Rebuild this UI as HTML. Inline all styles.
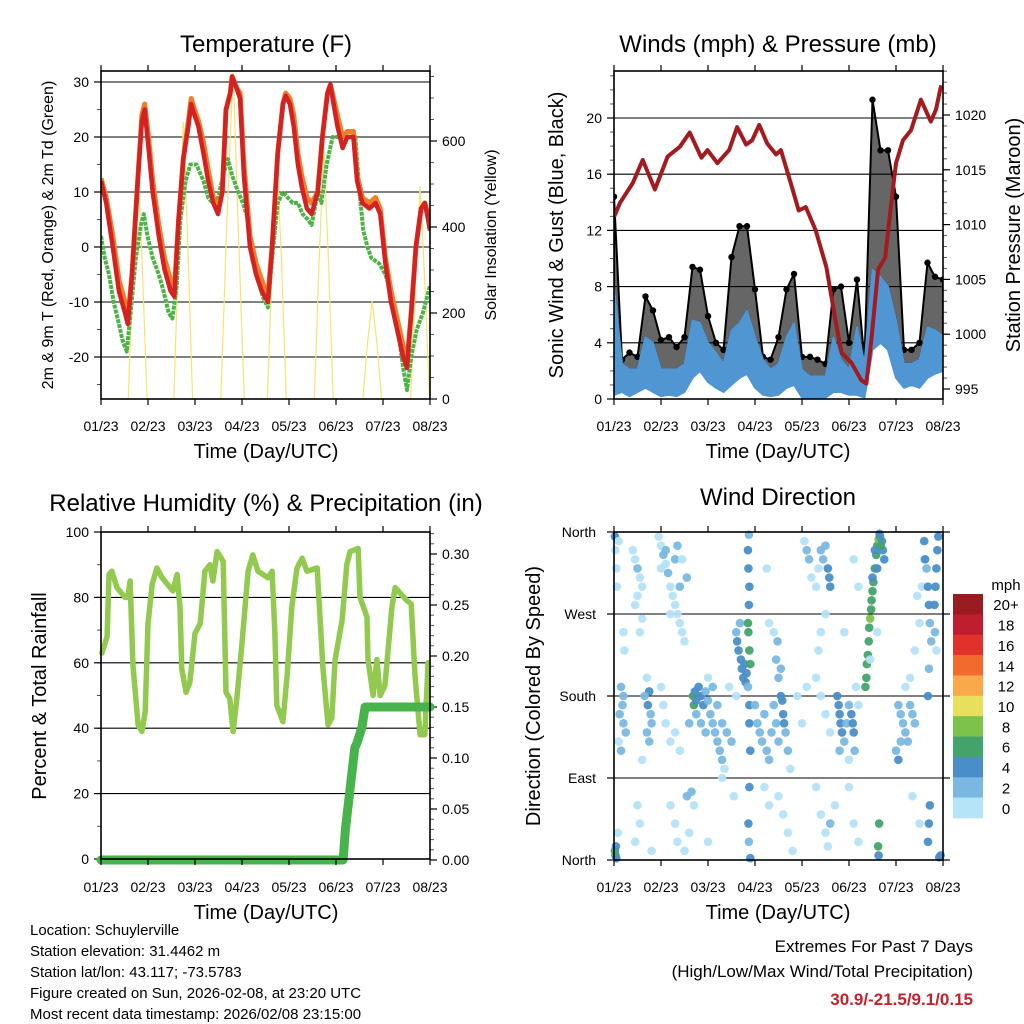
<!DOCTYPE html>
<html><head><meta charset="utf-8"><style>
html,body{margin:0;padding:0;background:#fff;}
svg{display:block;font-family:"Liberation Sans",Arial,sans-serif;}
</style></head><body>
<svg id="fig" xmlns="http://www.w3.org/2000/svg" width="1024" height="1024" viewBox="0 0 1024 1024">
<rect width="1024" height="1024" fill="#fff"/>
<g id="layer"></g>
<text x="266" y="52" font-size="24" text-anchor="middle">Temperature (F)</text>
<text x="778" y="52" font-size="24" text-anchor="middle">Winds (mph) &amp; Pressure (mb)</text>
<text x="266" y="511" font-size="24" text-anchor="middle">Relative Humidity (%) &amp; Precipitation (in)</text>
<text x="778" y="505" font-size="24" text-anchor="middle">Wind Direction</text>
<text x="266" y="458" font-size="20" text-anchor="middle">Time (Day/UTC)</text>
<text x="778" y="458" font-size="20" text-anchor="middle">Time (Day/UTC)</text>
<text x="266" y="919" font-size="20" text-anchor="middle">Time (Day/UTC)</text>
<text x="778" y="919" font-size="20" text-anchor="middle">Time (Day/UTC)</text>
<text transform="translate(53,235) rotate(-90)" font-size="16" text-anchor="middle">2m &amp; 9m T (Red, Orange) &amp; 2m Td (Green)</text>
<text transform="translate(496,235) rotate(-90)" font-size="16" text-anchor="middle">Solar Insolation (Yellow)</text>
<text transform="translate(563,235) rotate(-90)" font-size="20" text-anchor="middle">Sonic Wind &amp; Gust (Blue, Black)</text>
<text transform="translate(1020,235) rotate(-90)" font-size="20" text-anchor="middle">Station Pressure (Maroon)</text>
<text transform="translate(46,696) rotate(-90)" font-size="20" text-anchor="middle">Percent &amp; Total Rainfall</text>
<text transform="translate(540,696) rotate(-90)" font-size="20" text-anchor="middle">Direction (Colored By Speed)</text>
<g font-size="15">
<text x="30" y="935">Location: Schuylerville</text>
<text x="30" y="956">Station elevation: 31.4462 m</text>
<text x="30" y="977">Station lat/lon: 43.117; -73.5783</text>
<text x="30" y="998">Figure created on Sun, 2026-02-08, at 23:20 UTC</text>
<text x="30" y="1019">Most recent data timestamp: 2026/02/08 23:15:00</text>
</g>
<text x="973" y="952" font-size="17" text-anchor="end">Extremes For Past 7 Days</text>
<text x="973" y="977" font-size="17" text-anchor="end">(High/Low/Max Wind/Total Precipitation)</text>
<text x="973" y="1005" font-size="17" font-weight="bold" fill="#c8202a" text-anchor="end">30.9/-21.5/9.1/0.15</text>
<text x="1006" y="590" font-size="15" text-anchor="middle">mph</text>
</svg>
<script>
// ---------- data ----------
const dayLabels = ['01/23','02/23','03/23','04/23','05/23','06/23','07/23','08/23'];
const tempTime = [0,0.11,0.25,0.38,0.51,0.57,0.66,0.78,0.87,0.93,1.01,1.10,1.23,1.35,1.48,1.56,1.65,1.75,1.86,1.92,1.99,2.07,2.18,2.28,2.39,2.49,2.58,2.66,2.75,2.79,2.88,2.96,3.04,3.17,3.30,3.42,3.55,3.64,3.76,3.87,3.93,4.02,4.10,4.19,4.27,4.38,4.48,4.61,4.71,4.82,4.88,4.95,5.03,5.14,5.24,5.37,5.45,5.56,5.71,5.84,5.94,6.05,6.17,6.30,6.43,6.51,6.60,6.70,6.81,6.89,6.96,7.0];
const temp2m = [12,8,0,-8,-12,-14,-5,12,23,25,18,10,2,-4,-8,-9,5,16,22,26,24,22,17,12,8,6,10,25,28,31,29,27,13,0,-5,-8,-10,0,17,26,27.5,26,22,15,11,7,6,10,20,28,29.5,26,22,18,20,20,12,8,7,8,6,-3,-10,-15,-20,-22,-12,0,7,8,5,3];
const temp9m = [12.5,9,2,-6,-10,-13,-5,12,24,26,20,12,4,-2,-6,-8,5,16,23,27,25,23,19,14,9,7,10,25,28,31,29,28,15,2,-3,-6,-9,0,17,26,28,27,24,17,13,9,8,10,20,28,29.5,27,24,20,21,21,13,9,8,9,7,-2,-8,-13,-18,-21,-12,0,7,8,6,4];
const dewTime = [0,0.08,0.17,0.27,0.38,0.46,0.55,0.63,0.74,0.85,0.91,0.99,1.10,1.23,1.33,1.44,1.52,1.61,1.69,1.80,1.90,2.03,2.18,2.28,2.37,2.49,2.60,2.70,2.79,2.92,3.02,3.13,3.21,3.34,3.44,3.55,3.64,3.76,3.87,3.97,4.08,4.19,4.29,4.40,4.48,4.61,4.69,4.80,4.93,5.07,5.24,5.41,5.50,5.58,5.67,5.75,5.92,6.05,6.17,6.30,6.43,6.51,6.60,6.72,6.85,7.0];
const dewPoint = [2,-2,-5,-10,-14,-17,-19,-12,-2,4,6,2,-2,-5,-8,-12,-13,-7,5,12,15,15,12,9,8,9,13,16,13,10,8,5,-2,-6,-9,-11,-2,8,10,9,8,8,6,5,4,10,8,15,20,20,20,20,10,3,0,-2,-3,-5,-8,-14,-22,-26,-20,-15,-12,-7];
const solarTime = [0,0.58,0.68,0.78,0.88,0.98,1.55,1.65,1.75,1.85,1.95,2.55,2.68,2.81,2.92,3.05,3.54,3.64,3.74,3.84,3.94,4.54,4.64,4.74,4.84,4.94,5.57,5.67,5.77,5.87,5.97,6.59,6.69,6.79,6.89,6.99,7.0];
const solar = [0,0,300,558,300,0,0,350,644,350,0,0,420,765,400,0,0,310,574,320,0,0,320,581,320,0,0,130,228,130,0,0,270,495,270,0,0];
const tempTicks = [30,20,10,0,-10,-20];
const solarTicks = [0,200,400,600];

const windTime = [0,0.17,0.33,0.5,0.67,0.83,1,1.17,1.33,1.5,1.67,1.83,2,2.17,2.33,2.5,2.67,2.83,3,3.17,3.33,3.5,3.67,3.83,4,4.17,4.33,4.5,4.67,4.83,5,5.17,5.33,5.5,5.67,5.83,6,6.17,6.33,6.5,6.67,6.83,7.0];
const windHi = [8.0,2.5,2.1,2.1,4.4,4.0,2.1,2.1,2.1,2.5,5.6,5.4,4.0,3.3,2.5,4.9,5.4,6.3,4.4,2.8,2.1,2.5,4.4,5.4,2.1,1.6,1.6,1.6,4.4,2.8,2.1,5.1,2.5,9.2,8.7,8.0,5.6,2.5,2.5,2.8,5.1,4.9,4.5];
const windLo = [0.3,0.5,0.2,0.5,0.8,0.5,0.2,0.3,0.2,0.5,1.5,2.0,1.2,0.8,0.5,1.0,1.5,1.8,0.8,0.3,0.2,0.3,0.8,1.0,0.1,0.1,0.0,0.1,0.5,0.5,0.3,0.3,0.1,3.5,4.0,3.5,1.5,0.8,1.0,0.8,1.5,1.8,2.0];
const gust = [14.4,2.8,3.3,3.0,7.3,6.3,4.2,4.4,3.7,4.4,9.4,9.2,5.9,4.0,3.5,10.1,12.3,12.3,7.8,3.0,2.8,4.4,7.8,8.9,3.0,3.0,2.8,2.5,7.8,8.0,4.0,8.5,2.8,21.3,17.7,17.7,14.4,3.5,3.5,4.0,9.7,8.7,8.5];
const presTime = [0,0.13,0.40,0.61,0.87,1.14,1.40,1.61,1.86,1.99,2.20,2.45,2.62,2.81,2.94,3.09,3.26,3.45,3.55,3.76,3.93,4.08,4.29,4.52,4.71,4.84,5.05,5.26,5.37,5.48,5.62,5.77,5.90,6.00,6.15,6.32,6.53,6.74,6.85,6.96];
const pressure = [1010.7,1012.0,1013.8,1015.9,1013.2,1016.2,1017.1,1018.4,1016.1,1016.8,1015.6,1016.8,1018.9,1017.3,1017.7,1019.1,1017.4,1016.4,1016.8,1013.8,1011.3,1011.6,1009.5,1006.1,1001.3,998.3,997.4,995.8,995.5,999.7,1005.9,1007.0,1012.0,1015.6,1017.7,1018.6,1021.4,1019.4,1020.5,1022.7];
const windTicks = [0,4,8,12,16,20];
const presTicks = [995,1000,1005,1010,1015,1020];

const rhTime = [0.02,0.13,0.17,0.23,0.34,0.51,0.57,0.62,0.68,0.79,0.87,0.94,1.0,1.09,1.19,1.30,1.53,1.62,1.68,1.72,1.81,1.89,2.0,2.11,2.21,2.32,2.38,2.47,2.60,2.66,2.74,2.81,2.89,3.0,3.13,3.23,3.34,3.55,3.64,3.70,3.74,3.87,3.96,4.06,4.17,4.28,4.38,4.60,4.72,4.83,4.91,4.98,5.13,5.23,5.30,5.47,5.51,5.66,5.68,5.79,5.87,5.94,6.04,6.19,6.26,6.51,6.60,6.68,6.79,6.89,6.96];
const rh = [63,68,87,88,83,80,80,85,59,41,39,45,72,84,89,86,82,87,77,58,51,54,69,72,88,90,85,94,91,51,49,39,49,66,88,93,88,86,88,69,47,42,56,77,89,92,88,89,59,41,43,61,73,90,94,95,80,74,61,50,61,50,53,77,83,79,78,56,38,38,60];
const precipTime = [0,5.15,5.2,5.3,5.4,5.45,5.55,5.62,7.0];
const precip = [0,0,0.03,0.07,0.11,0.115,0.13,0.15,0.15];
const rhTicks = [0,20,40,60,80,100];
const precipTicks = [0,0.05,0.10,0.15,0.20,0.25,0.30];

const dirLabels = ['North','East','South','West','North'];
const dirTickDeg = [0,90,180,270,360];
const speedBins = ['0','2','4','6','8','10','12','14','16','18','20+'];
const speedColors = ['#b5e3f8','#7ab8e2','#4a8ec8','#44a36a','#7dc24a','#e8e05a','#f9a84a','#f26a2d','#e0322a','#be1e2d','#9b1c20'];
// [day, direction deg, speed mph]
const dirObs = [
[0.02,355,4],[0.03,340,1],[0.05,320,1],[0.06,300,1],[0.1,350,1],[0.2,250,1],[0.22,230,1],[0.15,190,3],[0.18,170,3],[0.12,160,3],[0.2,150,3],[0.25,140,3],[0.1,130,1],[0.2,180,3],[0.15,120,3],[0.02,10,7],[0.03,5,7],[0.04,15,5],[0.05,2,4],[0.08,30,1],
[0.4,340,1],[0.45,330,1],[0.5,320,3],[0.55,310,1],[0.6,300,1],[0.5,290,1],[0.45,280,1],[0.6,265,1],[0.55,250,1],[0.7,200,1],[0.75,185,4],[0.65,180,3],[0.72,170,4],[0.78,160,3],[0.8,150,3],[0.7,140,3],[0.75,130,3],[0.6,110,1],[0.5,60,1],[0.55,40,1],[0.45,20,1],[0.8,10,1],
[0.95,355,1],[1.0,345,1],[1.05,335,3],[1.1,325,1],[1.15,315,3],[1.2,300,1],[1.25,290,1],[1.3,280,1],[1.35,270,1],[1.4,260,1],[1.45,250,1],[1.5,240,1],[1.0,320,1],[1.1,340,3],[1.3,330,3],[1.35,345,3],[1.4,300,3],[1.45,330,1],[1.55,310,3],[1.2,270,1],[1.0,190,1],[1.05,170,1],[1.1,150,1],[1.2,130,1],[1.3,140,1],[1.4,120,1],[1.2,60,1],[1.3,40,1],[1.35,20,1],[1.5,10,1],[1.55,70,3],[1.6,150,3],
[1.68,180,6],[1.7,170,7],[1.72,185,5],[1.75,175,5],[1.8,190,5],[1.85,180,4],[1.9,170,5],[1.95,185,3],[2.0,175,3],[2.05,160,3],[2.1,150,3],[2.15,140,3],[2.2,130,3],[2.25,120,3],[2.3,110,3],[2.35,100,1],[2.1,190,3],[2.2,170,3],[2.3,150,3],[2.4,140,3],[2.5,130,3],[2.6,180,1],[2.45,190,1],[1.75,160,3],[1.85,150,3],[1.95,140,3],[2.0,200,1],[1.65,75,3],[1.7,60,1],[1.6,30,1],[2.0,20,1],[2.3,90,1],[2.55,70,1],
[2.6,250,3],[2.62,240,4],[2.65,230,4],[2.7,220,4],[2.72,210,5],[2.75,200,4],[2.8,195,4],[2.85,190,3],[2.68,260,3],[2.78,215,5],[2.82,205,5],[2.85,260,7],[2.86,250,7],[2.88,230,7],[2.9,215,7],[2.87,280,5],[2.88,300,5],[2.86,320,5],[2.85,340,5],[2.87,357,3],[2.88,150,5],[2.9,120,5],[2.88,80,4],[2.86,40,4],[2.87,20,3],[2.9,2,5],[2.88,170,5],
[3.0,170,3],[3.05,150,3],[3.1,140,3],[3.15,130,3],[3.2,160,3],[3.25,120,3],[3.3,110,3],[3.35,140,3],[3.4,170,3],[3.45,150,3],[3.5,130,3],[3.55,180,4],[3.6,160,4],[3.65,140,3],[3.7,120,3],[3.75,100,1],[3.5,200,3],[3.45,220,3],[3.4,250,1],[3.48,240,3],[3.55,210,3],[3.58,175,5],[3.62,150,5],[3.3,260,1],[3.2,80,1],[3.3,60,1],[3.5,70,1],[3.6,50,1],[3.7,30,1],[3.8,10,1],[3.9,180,1],[4.0,150,1],[4.1,190,1],[3.25,320,1],
[4.05,350,1],[4.1,340,3],[4.15,330,3],[4.2,310,1],[4.3,300,1],[4.35,320,1],[4.4,340,3],[4.45,330,3],[4.5,345,3],[4.55,320,4],[4.58,310,4],[4.6,300,4],[4.5,270,1],[4.4,250,1],[4.35,230,1],[4.3,200,1],[4.4,180,1],[4.5,160,1],[4.6,140,1],[4.3,80,1],[4.4,50,1],[4.5,30,1],[4.55,15,1],[4.6,40,3],
[4.75,180,5],[4.78,170,5],[4.8,160,5],[4.82,150,5],[4.85,140,5],[4.8,120,3],[4.9,130,3],[4.95,150,3],[5.0,170,3],[5.05,160,5],[5.08,150,5],[5.1,140,4],[5.12,120,3],[5.15,190,1],[5.2,170,1],[5.0,110,1],[4.7,60,1],[5.0,80,1],[5.1,40,1],[5.2,20,1],[4.9,250,1],[5.2,300,1],[5.1,330,1],
[5.35,190,7],[5.37,200,7],[5.38,215,7],[5.4,225,7],[5.42,240,7],[5.43,255,7],[5.45,265,9],[5.47,275,7],[5.48,285,7],[5.5,295,7],[5.52,305,7],[5.55,320,7],[5.58,335,7],[5.6,345,7],[5.63,352,9],[5.66,355,7],[5.7,350,5],[5.72,340,5],[5.75,330,5],[5.55,340,5],[5.6,320,5],[5.5,310,5],[5.65,358,5],[5.68,345,7],[5.62,15,7],[5.63,5,5],[5.64,40,7],[5.45,220,1],[5.6,250,1],
[6.05,170,3],[6.1,160,3],[6.15,150,3],[6.2,140,3],[6.25,130,3],[6.3,170,3],[6.35,160,3],[6.4,150,3],[6.1,130,3],[6.2,190,1],[6.3,200,1],[6.0,120,3],[6.05,110,4],[6.4,230,1],[6.5,260,1],[6.45,290,1],[6.6,330,1],[6.55,300,1],[6.35,70,1],[6.5,40,1],
[6.6,350,4],[6.62,330,4],[6.65,320,3],[6.68,300,4],[6.7,280,4],[6.72,260,3],[6.75,240,3],[6.7,210,3],[6.68,180,4],[6.72,60,4],[6.7,40,4],[6.68,20,4],[6.9,355,4],[6.88,340,4],[6.86,320,4],[6.84,300,4],[6.82,280,4],[6.83,250,3],[6.86,230,1],[6.95,5,4],[6.92,3,4]
];

// ---------- helpers ----------
const NS = 'http://www.w3.org/2000/svg';
const layer = document.getElementById('layer');
function mk(tag, attrs, parent) {
  const e = document.createElementNS(NS, tag);
  for (const k in attrs) e.setAttribute(k, attrs[k]);
  (parent || layer).appendChild(e);
  return e;
}
function lin(d0, d1, r0, r1) { return v => r0 + (v - d0) * (r1 - r0) / (d1 - d0); }
function pathOf(xs, ys, fx, fy) { return xs.map((x, i) => (i ? 'L' : 'M') + fx(x).toFixed(1) + ',' + fy(ys[i]).toFixed(1)).join(''); }

const P1 = {x0:101, x1:430, y0:71, y1:399};
const P2 = {x0:614, x1:943, y0:71, y1:399};
const P3 = {x0:101, x1:430, y0:532, y1:859};
const P4 = {x0:614, x1:943, y0:532, y1:860};

function frame(P, name) {
  const r = mk('rect', {x:P.x0, y:P.y0, width:P.x1-P.x0, height:P.y1-P.y0, fill:'none', stroke:'#000', 'stroke-width':1.6});
  
  
}
function xAxis(P, labelY, name) {
  const fx = lin(0, 7, P.x0, P.x1);
  const g = mk('g', {});
  
  
  dayLabels.forEach((lab, i) => {
    const x = fx(i);
    mk('line', {x1:x, x2:x, y1:P.y1, y2:P.y1+6, stroke:'#000', 'stroke-width':1.2}, g);
    mk('line', {x1:x, x2:x, y1:P.y0, y2:P.y0-6, stroke:'#000', 'stroke-width':1.2}, g);
    const t = mk('text', {x:x, y:labelY, 'font-size':14, 'text-anchor':'middle'}, g);
    t.textContent = lab;
    
    
  });
}
function yAxis(P, ticks, fy, side, fmt, name, grid, minorStep, dom) {
  const g = mk('g', {});
  
  
  const xe = side === 'left' ? P.x0 : P.x1;
  const dir = side === 'left' ? -1 : 1;
  if (minorStep) {
    for (let v = dom[0]; v <= dom[1] + 1e-9; v += minorStep) {
      const y = fy(v);
      if (y < P.y0 - 0.5 || y > P.y1 + 0.5) continue;
      mk('line', {x1:xe, x2:xe + dir*4, y1:y, y2:y, stroke:'#555', 'stroke-width':1}, g);
    }
  }
  ticks.forEach(v => {
    const y = fy(v);
    if (grid) mk('line', {x1:P.x0, x2:P.x1, y1:y, y2:y, stroke:'#000', 'stroke-width':1.1}, g);
    mk('line', {x1:xe, x2:xe + dir*7, y1:y, y2:y, stroke:'#000', 'stroke-width':1.2}, g);
    const t = mk('text', {x: xe + dir*12, y: y + 5, 'font-size':14, 'text-anchor': side === 'left' ? 'end' : 'start'}, g);
    t.textContent = fmt(v);
    
    
  });
}

// ---------- Panel 1: temperature ----------
const t1x = lin(0, 7, P1.x0, P1.x1);
const tY = lin(0, 10, 247, 192);
const sY = lin(0, 200, 399, 313);
yAxis(P1, tempTicks, tY, 'left', v => String(v), 'temp-y-axis', true, 5, [-25, 30]);
yAxis(P1, solarTicks, sY, 'right', v => String(v), 'solar-y-axis', false, 50, [0, 750]);
const clip1 = mk('clipPath', {id:'c1'});
mk('rect', {x:P1.x0, y:P1.y0, width:P1.x1-P1.x0, height:P1.y1-P1.y0}, clip1);
const g1 = mk('g', {'clip-path':'url(#c1)'});


let e;
e = mk('path', {d:pathOf(solarTime, solar, t1x, sY), fill:'none', stroke:'#f7e272', 'stroke-width':1.2}, g1);


e = mk('path', {d:pathOf(dewTime, dewPoint, t1x, tY), fill:'none', stroke:'#4db346', 'stroke-width':4, 'stroke-dasharray':'4 1', 'stroke-linejoin':'round'}, g1);


e = mk('path', {d:pathOf(tempTime, temp9m, t1x, tY), fill:'none', stroke:'#f07d2a', 'stroke-width':5, 'stroke-linejoin':'round'}, g1);


e = mk('path', {d:pathOf(tempTime, temp2m, t1x, tY), fill:'none', stroke:'#d42222', 'stroke-width':4.5, 'stroke-linejoin':'round'}, g1);


frame(P1, 'temperature-frame');
xAxis(P1, 431, 'temp-x-axis');

// ---------- Panel 2: winds ----------
const t2x = lin(0, 7, P2.x0, P2.x1);
const wY = lin(0, 4, 399, 342.8);
const pY = lin(1020, 1015, 115, 169.8);
yAxis(P2, windTicks, wY, 'left', v => String(v), 'wind-y-axis', true, 1, [0, 23]);
yAxis(P2, presTicks, pY, 'right', v => String(v), 'pressure-y-axis', false, 1, [994, 1024]);
const clip2 = mk('clipPath', {id:'c2'});
mk('rect', {x:P2.x0, y:P2.y0, width:P2.x1-P2.x0, height:P2.y1-P2.y0}, clip2);
const g2 = mk('g', {'clip-path':'url(#c2)'});


let gp = windTime.map((t, i) => (i ? 'L' : 'M') + t2x(t).toFixed(1) + ',' + wY(gust[i]).toFixed(1)).join('');
for (let i = windTime.length - 1; i >= 0; i--) gp += 'L' + t2x(windTime[i]).toFixed(1) + ',' + wY(windHi[i]).toFixed(1);
e = mk('path', {d:gp + 'Z', fill:'#000', 'fill-opacity':0.6, stroke:'#000', 'stroke-width':2, 'stroke-linejoin':'round'}, g2);


windTime.forEach((t, i) => {
  const c = mk('circle', {cx:t2x(t), cy:wY(gust[i]), r:3.2, fill:'#000'}, g2);
  
  
});
let wp = windTime.map((t, i) => (i ? 'L' : 'M') + t2x(t).toFixed(1) + ',' + wY(windHi[i]).toFixed(1)).join('');
for (let i = windTime.length - 1; i >= 0; i--) wp += 'L' + t2x(windTime[i]).toFixed(1) + ',' + wY(windLo[i]).toFixed(1);
e = mk('path', {d:wp + 'Z', fill:'#4f96d2', stroke:'#4f96d2', 'stroke-width':2, 'stroke-linejoin':'round'}, g2);


e = mk('path', {d:pathOf(presTime, pressure, t2x, pY), fill:'none', stroke:'#a31b1f', 'stroke-width':4, 'stroke-linejoin':'round'}, g2);


frame(P2, 'wind-frame');
xAxis(P2, 431, 'wind-x-axis');

// ---------- Panel 3: humidity & precipitation ----------
const t3x = lin(0, 7, P3.x0, P3.x1);
const rY = lin(0, 100, 859, 532);
const prY = lin(0, 0.05, 860, 809);
yAxis(P3, rhTicks, rY, 'left', v => String(v), 'rh-y-axis', false, 10, [0, 100]);
rhTicks.slice(1, 5).forEach(v => {
  const gl = mk('line', {x1:P3.x0, x2:P3.x1, y1:rY(v), y2:rY(v), stroke:'#000', 'stroke-width':1.1});
  
  
});
yAxis(P3, precipTicks, prY, 'right', v => v.toFixed(2), 'precip-y-axis', false, 0.01, [0, 0.32]);
const clip3 = mk('clipPath', {id:'c3'});
mk('rect', {x:P3.x0 - 6, y:P3.y0, width:P3.x1-P3.x0 + 12, height:P3.y1-P3.y0 + 8}, clip3);
const g3 = mk('g', {'clip-path':'url(#c3)'});


e = mk('path', {d:pathOf(rhTime, rh, t3x, rY), fill:'none', stroke:'#92c94f', 'stroke-width':5.5, 'stroke-linejoin':'round', 'stroke-linecap':'round'}, g3);


e = mk('path', {d:pathOf(precipTime, precip, t3x, prY), fill:'none', stroke:'#46b44a', 'stroke-width':9, 'stroke-linejoin':'round', 'stroke-linecap':'round'}, g3);


frame(P3, 'humidity-frame');
xAxis(P3, 892, 'rh-x-axis');

// ---------- Panel 4: wind direction ----------
const t4x = lin(0, 7, P4.x0, P4.x1);
const dY = lin(0, 360, 860, 532);
const g4a = mk('g', {});


dirTickDeg.forEach((d, i) => {
  const y = dY(d);
  if (i > 0 && i < 4) mk('line', {x1:P4.x0, x2:P4.x1, y1:y, y2:y, stroke:'#000', 'stroke-width':1.1}, g4a);
  mk('line', {x1:P4.x0, x2:P4.x0-7, y1:y, y2:y, stroke:'#000', 'stroke-width':1.2}, g4a);
  mk('line', {x1:P4.x1, x2:P4.x1+7, y1:y, y2:y, stroke:'#000', 'stroke-width':1.2}, g4a);
  const t = mk('text', {x:P4.x0 - 18, y:y + 5, 'font-size':14, 'text-anchor':'end'}, g4a);
  t.textContent = dirLabels[i];
  
  
});
const g4 = mk('g', {});


dirObs.forEach(o => {
  const bin = Math.min(10, Math.floor(o[2] / 2));
  const c = mk('circle', {cx:t4x(o[0]), cy:dY(o[1]), r:4.3, fill:speedColors[bin], 'fill-opacity':0.95}, g4);
  
  
});
frame(P4, 'direction-frame');
xAxis(P4, 892, 'dir-x-axis');

// colorbar
const cb = mk('g', {});


const cbTop = 594, cbH = 224 / speedBins.length;
speedBins.forEach((lab, i) => {
  const k = speedBins.length - 1 - i;
  const r = mk('rect', {x:953, y:cbTop + i*cbH, width:30, height:cbH + 0.3, fill:speedColors[k]}, cb);
  
  
  const t = mk('text', {x:1006, y:cbTop + i*cbH + cbH/2 + 6, 'font-size':15, 'text-anchor':'middle'}, cb);
  t.textContent = speedBins[k];
  
  
});
</script>
</body></html>
